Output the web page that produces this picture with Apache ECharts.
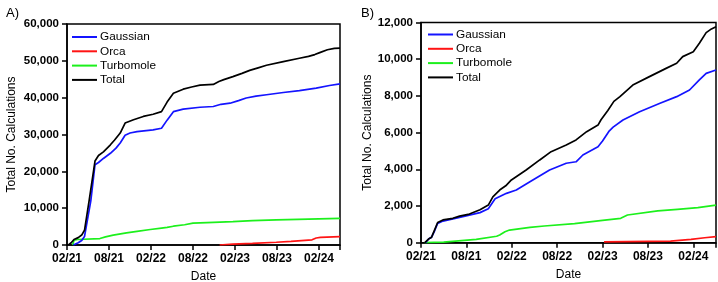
<!DOCTYPE html>
<html>
<head>
<meta charset="utf-8">
<script src="https://cdn.jsdelivr.net/npm/echarts@6/dist/echarts.min.js"></script>
<style>html,body{margin:0;padding:0;background:#fff;}#c{width:718px;height:282px;}</style>
</head>
<body>
<div id="c"></div>
<script>
// x values: months since Feb 2021
var xTickLabels = ['02/21','08/21','02/22','08/22','02/23','08/23','02/24'];
var seriesNames = ['Gaussian','Orca','Turbomole','Total'];

var gaussianA = [[0.9,0],[1.6,600],[2.1,1200],[2.5,2300],[3.4,12000],[4.0,21800],[4.5,22400],[5.2,23500],[6.2,24900],[7.0,26300],[7.6,27700],[8.3,29800],[9.0,30400],[10.0,30800],[12.3,31250],[13.5,31700],[14.3,33900],[15.2,36200],[16.6,36900],[19.0,37400],[20.9,37600],[22.0,38200],[23.3,38500],[24.5,39200],[25.6,39900],[27.0,40400],[28.5,40800],[30.9,41400],[33.2,41900],[35.6,42600],[37.5,43300],[39,43750]];
var orcaA = [[21.8,0],[23.7,250],[26.5,450],[29.9,750],[32.0,1000],[35.0,1400],[35.6,1900],[36.2,2050],[39,2250]];
var turbomoleA = [[0.8,0],[1.0,1300],[1.5,1500],[4.7,1750],[5.5,2200],[6.6,2700],[8.5,3300],[10.0,3700],[11.9,4200],[13.5,4600],[14.3,4800],[15.2,5100],[16.8,5500],[18.0,5950],[20.0,6100],[23.7,6350],[26.5,6600],[29.9,6800],[33.0,6950],[36.0,7100],[39,7250]];
var totalA = [[0.2,0],[0.6,600],[1.0,1500],[1.6,2000],[2.1,2700],[2.5,4000],[3.2,12500],[4.0,22800],[4.5,24300],[5.2,25300],[6.2,27200],[6.8,28500],[7.6,30400],[8.3,33100],[9.5,34000],[10.9,34900],[12.3,35500],[13.5,36200],[14.3,38800],[15.2,41200],[16.6,42300],[17.8,42900],[19.0,43400],[20.9,43600],[21.7,44400],[22.4,44900],[23.7,45700],[25.0,46600],[26.1,47400],[27.3,48100],[28.5,48800],[30.9,49800],[33.2,50700],[34.5,51200],[35.4,51700],[36.2,52300],[37.2,53000],[38.2,53400],[39,53450]];

var gaussianB = [[0.6,0],[1.0,200],[1.4,300],[1.8,650],[2.2,1050],[2.9,1180],[5.1,1380],[7.8,1640],[8.9,1850],[9.8,2400],[11.3,2690],[12.6,2870],[14.4,3320],[17.0,3960],[19.2,4330],[20.5,4410],[21.4,4780],[23.4,5230],[24.0,5540],[24.9,6100],[25.4,6300],[26.7,6690],[28.9,7140],[31.6,7600],[33.8,7960],[35.5,8320],[36.8,8870],[37.7,9230],[39,9410]];
var orcaB = [[24.2,50],[33.0,90],[35.7,185],[37.5,270],[39,330]];
var turbomoleB = [[0.5,0],[3.0,30],[7.3,180],[10.0,350],[10.4,420],[11.1,600],[11.7,690],[14.4,840],[16.3,910],[20.3,1040],[24.0,1220],[26.4,1330],[27.3,1510],[31.3,1730],[33.9,1820],[36.6,1910],[39,2050]];
var totalB = [[0.5,0],[1.0,200],[1.4,300],[1.8,700],[2.2,1100],[2.9,1240],[4.2,1330],[5.1,1450],[6.4,1560],[7.8,1800],[8.9,2050],[9.5,2500],[10.4,2870],[11.2,3100],[11.95,3420],[13.9,3960],[15.7,4510],[17.2,4960],[19.2,5320],[20.5,5600],[21.9,6050],[23.4,6410],[23.8,6700],[24.7,7200],[25.5,7700],[26.3,7960],[28.0,8590],[30.2,9050],[32.4,9500],[33.8,9780],[34.6,10140],[36.0,10410],[36.8,10870],[37.7,11450],[38.4,11650],[39,11770]];

var colors = {Gaussian:'#1414ff', Orca:'#ff1414', Turbomole:'#1cf01c', Total:'#000000'};
var FONT = 'Liberation Sans, Arial, sans-serif';

function xAxisDef(gi){
  return {
    type:'value', gridIndex:gi, min:0, max:39, interval:6,
    name:'Date', nameLocation:'middle', nameGap:26,
    nameTextStyle:{fontFamily:FONT, fontSize:12, color:'#000'},
    axisLine:{show:true, lineStyle:{color:'#000', width:1.5}},
    axisTick:{show:true, inside:false, length:5, lineStyle:{color:'#000', width:1.5}},
    axisLabel:{fontFamily:FONT, fontSize:12, fontWeight:'bold', color:'#000', margin:8,
      formatter:function(v){ return (v % 6 === 0) ? (xTickLabels[v/6] || '') : ''; }},
    splitLine:{show:false}
  };
}
function yAxisDef(gi, max, interval, gap){
  return {
    type:'value', gridIndex:gi, min:0, max:max, interval:interval,
    name:'Total No. Calculations', nameLocation:'middle', nameGap:gap,
    nameTextStyle:{fontFamily:FONT, fontSize:12, color:'#000'},
    axisLine:{show:true, lineStyle:{color:'#000', width:1.5}},
    axisTick:{show:true, inside:false, length:5, lineStyle:{color:'#000', width:1.5}},
    axisLabel:{fontFamily:FONT, fontSize:11.5, fontWeight:'bold', color:'#000', margin:8,
      formatter:function(v){ return v.toLocaleString('en-US'); }},
    splitLine:{show:false}
  };
}
function lineSeries(name, data, gi){
  return {type:'line', name:name, data:data, xAxisIndex:gi, yAxisIndex:gi,
    showSymbol:false, symbol:'none', smooth:false, animation:false,
    lineStyle:{color:colors[name], width:1.7}, itemStyle:{color:colors[name]}};
}
function legendDef(left, top){
  return {
    show:true, orient:'vertical', left:left, top:top, itemWidth:25, itemHeight:2, itemGap:1.3,
    icon:'rect', padding:0,
    data: seriesNames.map(function(n){ return {name:n, itemStyle:{color:colors[n]}}; }),
    textStyle:{fontFamily:FONT, fontSize:11.8, color:'#000', lineHeight:13, padding:[0,0,0,-2]},
    selectedMode:false
  };
}

var chart = echarts.init(document.getElementById('c'), null, {renderer:'canvas'});
chart.setOption({
  backgroundColor:'#fff',
  animation:false,
  title:[
    {text:'A)', left:1, top:2, textStyle:{fontFamily:FONT, fontSize:13, fontWeight:'normal', color:'#000'}},
    {text:'B)', left:356, top:2, textStyle:{fontFamily:FONT, fontSize:13, fontWeight:'normal', color:'#000'}}
  ],
  grid:[
    {left:67, top:24, width:273, height:221, show:true, borderColor:'#000', borderWidth:1.5, backgroundColor:'transparent', containLabel:false, outerBoundsMode:'none'},
    {left:421, top:22.5, width:295, height:220.2, show:true, borderColor:'#000', borderWidth:1.5, backgroundColor:'transparent', containLabel:false, outerBoundsMode:'none'}
  ],
  xAxis:[xAxisDef(0), xAxisDef(1)],
  yAxis:[yAxisDef(0, 60000, 10000, 49), yAxisDef(1, 12000, 2000, 45)],
  legend:[legendDef(72, 30.5), legendDef(428, 28)],
  series:[
    lineSeries('Turbomole', turbomoleA, 0),
    lineSeries('Orca', orcaA, 0),
    lineSeries('Gaussian', gaussianA, 0),
    lineSeries('Total', totalA, 0),
    lineSeries('Turbomole', turbomoleB, 1),
    lineSeries('Orca', orcaB, 1),
    lineSeries('Gaussian', gaussianB, 1),
    lineSeries('Total', totalB, 1)
  ]
});
</script>
</body>
</html>
